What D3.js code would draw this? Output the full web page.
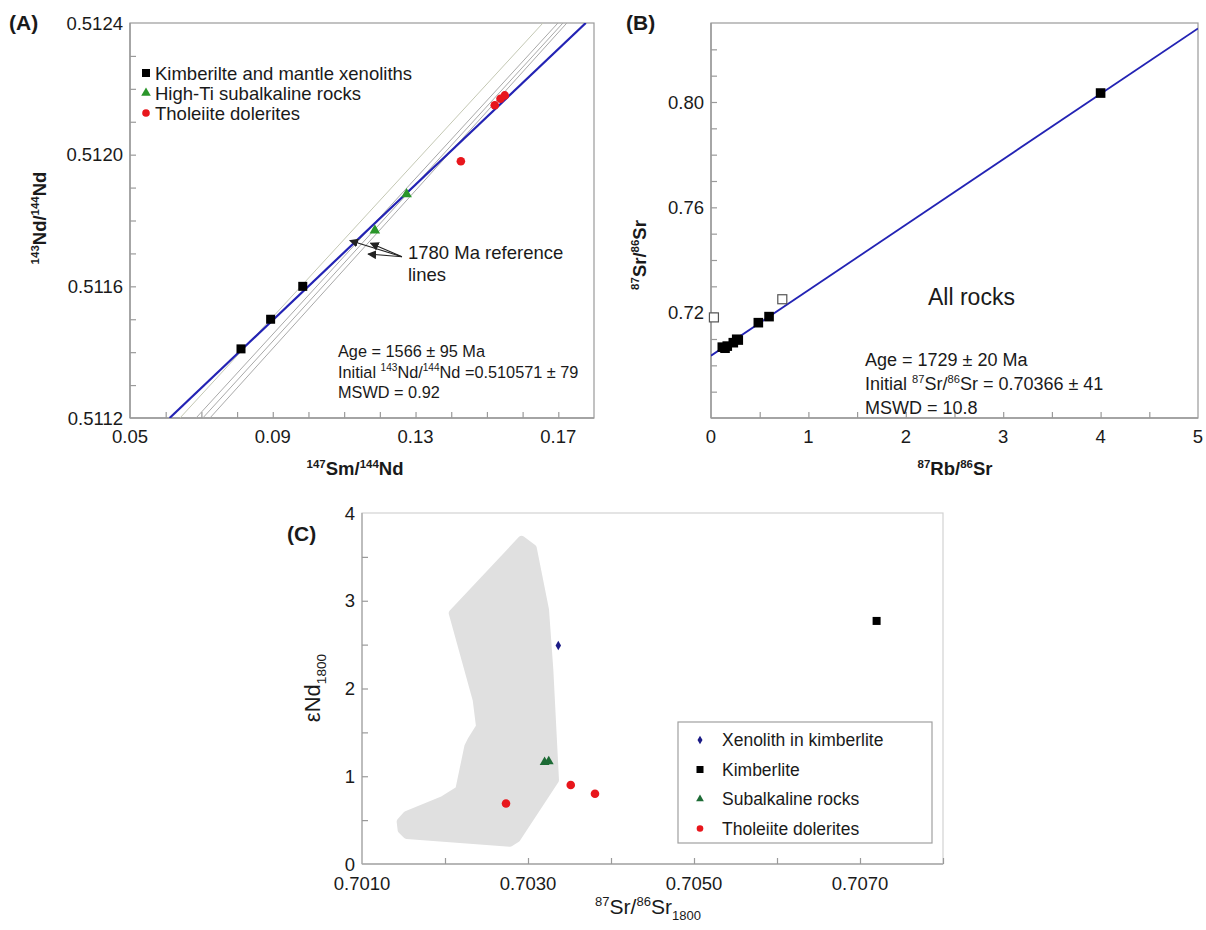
<!DOCTYPE html>
<html><head><meta charset="utf-8">
<script src="https://cdn.jsdelivr.net/npm/d3@7"></script>
<style>
html,body{margin:0;padding:0;background:#fff;}
svg{display:block;font-family:"Liberation Sans",Arial,sans-serif;}
</style></head>
<body>
<svg id="chart" width="1206" height="930"></svg>
<script>
// ---------- Panel A data (147Sm/144Nd vs 143Nd/144Nd) ----------
const aXTicks = [0.05, 0.09, 0.13, 0.17];
const aYTicks = [0.5112, 0.5116, 0.5120, 0.5124];
const aKimberlite = [[0.0811, 0.51141], [0.0894, 0.51150], [0.0984, 0.51160]];
const aHighTi = [[0.1186, 0.51177], [0.1275, 0.51188]];
const aTholeiite = [[0.1427, 0.51198], [0.1522, 0.51215], [0.1538, 0.51217], [0.1550, 0.51218]];
const aIsochron = [[0.0611, 0.5112], [0.1777, 0.5124]];
const aRefLines = [
  [[0.0640, 0.5112], [0.1657, 0.5124]],
  [[0.0685, 0.5112], [0.1699, 0.5124]],
  [[0.0704, 0.5112], [0.1713, 0.5124]],
  [[0.0724, 0.5112], [0.1724, 0.5124]]
];
const aArrowTips = [[0.1116, 0.511739], [0.1174, 0.511731], [0.1167, 0.511698]];
const aArrowTail = [0.1262, 0.511690];
const aLegend = ["Kimberilte and mantle xenoliths", "High-Ti subalkaline rocks", "Tholeiite dolerites"];

// ---------- Panel B data (87Rb/86Sr vs 87Sr/86Sr) ----------
const bXTicks = [0, 1, 2, 3, 4, 5];
const bYTicks = [0.72, 0.76, 0.80];
const bFilledRb = [0.116, 0.144, 0.167, 0.229, 0.264, 0.280, 0.486, 0.596, 4.0];
const bFilledSr = [0.7069, 0.7065, 0.7073, 0.7086, 0.7099, 0.7096, 0.7162, 0.7185, 0.8034];
const bOpenRb = [0.03, 0.732];
const bOpenSr = [0.7182, 0.7251];
const bIsochron = [[0, 0.70366], [5, 0.82796]];

// ---------- Panel C data (87Sr/86Sr1800 vs eNd1800) ----------
const cXTicks = [0.7010, 0.7030, 0.7050, 0.7070];
const cYTicks = [0, 1, 2, 3, 4];
const cXenolith = [[0.703365, 2.49]];
const cKimberlite = [[0.70720, 2.77]];
const cSubalkaline = [[0.70320, 1.16], [0.70325, 1.17]];
const cTholeiite = [[0.702735, 0.69], [0.703515, 0.90], [0.703807, 0.80]];
const cField = [
  [0.702924, 3.694], [0.703057, 3.600], [0.703205, 2.896], [0.703257, 2.212],
  [0.703325, 0.958], [0.702864, 0.293], [0.702783, 0.243], [0.701539, 0.331],
  [0.701478, 0.388], [0.701466, 0.482], [0.701539, 0.559], [0.701980, 0.730],
  [0.702172, 0.844], [0.702281, 1.338], [0.702322, 1.414], [0.702422, 1.566],
  [0.702382, 1.870], [0.702093, 2.859]
];
const cLegend = ["Xenolith in kimberlite", "Kimberlite", "Subalkaline rocks", "Tholeiite dolerites"];

// ---------- helpers ----------
const svg = d3.select("#chart");
const AXIS = "#9a9a9a", TXT = "#1a1a1a";
const RED = "#e8161c", GREEN_A = "#2a962a", GREEN_C = "#1d6b35", NAVY = "#1b1b86", BLUE = "#2323b4";

function rich(sel, parts, size) {
  let shift = 0;
  parts.forEach(p => {
    const target = p.sup ? -0.4 * size : (p.sub ? 0.28 * size : 0);
    sel.append("tspan")
      .attr("dy", target - shift)
      .attr("font-size", (p.sup || p.sub) ? size * 0.62 : size)
      .text(p.t);
    shift = target;
  });
}

function frame(g, x, y, opts) {
  const [x0, x1] = x.range(), [y0, y1] = y.range();
  g.append("rect").attr("x", x0).attr("y", y1).attr("width", x1 - x0).attr("height", y0 - y1)
    .attr("fill", "none").attr("stroke", opts.frameColor || AXIS).attr("stroke-width", 1.2);
  g.append("line").attr("x1", x0).attr("x2", x0).attr("y1", y0).attr("y2", y1).attr("stroke", AXIS).attr("stroke-width", 1.4);
  g.append("line").attr("x1", x0).attr("x2", x1).attr("y1", y0).attr("y2", y0).attr("stroke", AXIS).attr("stroke-width", 1.4);
}

function axes(g, x, y, o) {
  const [x0, x1] = x.range(), [y0, y1] = y.range();
  const xa = d3.axisBottom(x).tickValues(o.xMinor).tickSizeInner(-6).tickSizeOuter(0).tickFormat("");
  const ya = d3.axisLeft(y).tickValues(o.yMinor).tickSizeInner(-6).tickSizeOuter(0).tickFormat("");
  const gx = g.append("g").attr("transform", `translate(0,${y0})`).call(xa);
  const gy = g.append("g").attr("transform", `translate(${x0},0)`).call(ya);
  [gx, gy].forEach(s => { s.select(".domain").remove(); s.selectAll("line").attr("stroke", AXIS).attr("stroke-width", 1.2); });
  g.selectAll(null).data(o.xLabels).join("text")
    .attr("x", d => x(d)).attr("y", y0 + o.xLabelDy).attr("text-anchor", "middle")
    .attr("font-size", o.fs).attr("fill", TXT).text(o.xFmt);
  g.selectAll(null).data(o.yLabels).join("text")
    .attr("x", x0 - 7).attr("y", d => y(d)).attr("dy", "0.36em").attr("text-anchor", "end")
    .attr("font-size", o.fs).attr("fill", TXT).text(o.yFmt);
}

function range(a, b, step) {
  const out = []; const n = Math.round((b - a) / step);
  for (let i = 0; i <= n; i++) out.push(+(a + i * step).toFixed(6));
  return out;
}

// ================= PANEL A =================
{
  const g = svg.append("g");
  const x = d3.scaleLinear().domain([0.05, 0.18]).range([130, 594]);
  const y = d3.scaleLinear().domain([0.5112, 0.5124]).range([418, 23]);
  g.append("defs").append("clipPath").attr("id", "clipA")
    .append("rect").attr("x", 130).attr("y", 23).attr("width", 464).attr("height", 395);
  frame(g, x, y, {});
  axes(g, x, y, {
    xMinor: range(0.06, 0.17, 0.01), yMinor: range(0.5113, 0.5123, 0.0001),
    xLabels: aXTicks, yLabels: aYTicks, fs: 18.5, xLabelDy: 25,
    xFmt: d => d3.format(".2f")(d), yFmt: d => d3.format(".4f")(d)
  });
  const line = d3.line().x(d => x(d[0])).y(d => y(d[1]));
  const lg = g.append("g").attr("clip-path", "url(#clipA)");
  lg.selectAll(null).data(aRefLines).join("path").attr("d", line).attr("fill", "none")
    .attr("stroke", (d, i) => i === 0 ? "#c4c8b4" : "#a9a9a9").attr("stroke-width", 1);
  lg.append("path").datum(aIsochron).attr("d", line).attr("fill", "none").attr("stroke", BLUE).attr("stroke-width", 2.2);

  g.selectAll(null).data(aKimberlite).join("rect")
    .attr("x", d => x(d[0]) - 4.5).attr("y", d => y(d[1]) - 4.5).attr("width", 9).attr("height", 9).attr("fill", "#000");
  const tri = d3.symbol().type(d3.symbolTriangle).size(48);
  g.selectAll(null).data(aHighTi).join("path").attr("d", tri)
    .attr("transform", d => `translate(${x(d[0])},${y(d[1])})`).attr("fill", GREEN_A);
  g.selectAll(null).data(aTholeiite).join("circle")
    .attr("cx", d => x(d[0])).attr("cy", d => y(d[1])).attr("r", 4.3).attr("fill", RED);

  const defs = svg.append("defs");
  defs.append("marker").attr("id", "arrowA").attr("viewBox", "0 0 10 10").attr("refX", 9).attr("refY", 5)
    .attr("markerWidth", 9).attr("markerHeight", 9).attr("markerUnits", "userSpaceOnUse").attr("orient", "auto")
    .append("path").attr("d", "M0,0 L10,5 L0,10 z").attr("fill", "#222");
  g.selectAll(null).data(aArrowTips).join("line")
    .attr("x1", x(aArrowTail[0])).attr("y1", y(aArrowTail[1]))
    .attr("x2", d => x(d[0])).attr("y2", d => y(d[1]))
    .attr("stroke", "#222").attr("stroke-width", 1.1).attr("marker-end", "url(#arrowA)");
  g.append("text").attr("x", x(aArrowTail[0]) + 6).attr("y", y(aArrowTail[1]) + 2).attr("font-size", 18.5).attr("fill", TXT)
    .text("1780 Ma reference");
  g.append("text").attr("x", x(aArrowTail[0]) + 6).attr("y", y(aArrowTail[1]) + 24).attr("font-size", 18.5).attr("fill", TXT)
    .text("lines");

  const leg = g.append("g");
  aLegend.forEach((t, i) => {
    const cy = 73 + i * 20;
    if (i === 0) leg.append("rect").attr("x", 142).attr("y", cy - 4).attr("width", 8).attr("height", 8).attr("fill", "#000");
    if (i === 1) leg.append("path").attr("d", d3.symbol().type(d3.symbolTriangle).size(40)).attr("transform", `translate(146,${cy})`).attr("fill", GREEN_A);
    if (i === 2) leg.append("circle").attr("cx", 146).attr("cy", cy).attr("r", 3.8).attr("fill", RED);
    leg.append("text").attr("x", 155).attr("y", cy).attr("dy", "0.36em").attr("font-size", 18.5).attr("fill", TXT).text(t);
  });

  const ann = [[{t: "Age = 1566 ± 95 Ma"}],
    [{t: "Initial "}, {t: "143", sup: true}, {t: "Nd/"}, {t: "144", sup: true}, {t: "Nd =0.510571 ± 79"}],
    [{t: "MSWD = 0.92"}]];
  ann.forEach((parts, i) => {
    const t = g.append("text").attr("x", 338).attr("y", 357 + i * 20.5).attr("fill", TXT);
    rich(t, parts, 16.3);
  });

  const xt = g.append("text").attr("x", 355).attr("y", 475).attr("text-anchor", "middle").attr("font-weight", "bold").attr("fill", TXT);
  rich(xt, [{t: "147", sup: true}, {t: "Sm/"}, {t: "144", sup: true}, {t: "Nd"}], 18.5);
  const yt = g.append("text").attr("transform", "translate(46,218) rotate(-90)").attr("text-anchor", "middle").attr("font-weight", "bold").attr("fill", TXT);
  rich(yt, [{t: "143", sup: true}, {t: "Nd/"}, {t: "144", sup: true}, {t: "Nd"}], 18.5);
  g.append("text").attr("x", 9).attr("y", 30).attr("font-size", 21).attr("font-weight", "bold").attr("fill", TXT).text("(A)");
}

// ================= PANEL B =================
{
  const g = svg.append("g");
  const x = d3.scaleLinear().domain([0, 5]).range([711, 1198]);
  const y = d3.scaleLinear().domain([0.68, 0.83]).range([418, 23]);
  g.append("defs").append("clipPath").attr("id", "clipB")
    .append("rect").attr("x", 711).attr("y", 23).attr("width", 487).attr("height", 395);
  frame(g, x, y, {});
  axes(g, x, y, {
    xMinor: range(0.5, 4.5, 0.5), yMinor: range(0.69, 0.82, 0.01),
    xLabels: bXTicks, yLabels: bYTicks, fs: 18.5, xLabelDy: 25,
    xFmt: d => d3.format("d")(d), yFmt: d => d3.format(".2f")(d)
  });
  const line = d3.line().x(d => x(d[0])).y(d => y(d[1]));
  g.append("g").attr("clip-path", "url(#clipB)").append("path").datum(bIsochron).attr("d", line)
    .attr("fill", "none").attr("stroke", BLUE).attr("stroke-width", 1.8);
  const filled = bFilledRb.map((v, i) => [v, bFilledSr[i]]);
  const open = bOpenRb.map((v, i) => [v, bOpenSr[i]]);
  g.selectAll(null).data(filled).join("rect")
    .attr("x", d => x(d[0]) - 4.8).attr("y", d => y(d[1]) - 4.8).attr("width", 9.6).attr("height", 9.6).attr("fill", "#000");
  g.selectAll(null).data(open).join("rect")
    .attr("x", d => x(d[0]) - 4.5).attr("y", d => y(d[1]) - 4.5).attr("width", 9).attr("height", 9)
    .attr("fill", "#fff").attr("stroke", "#555").attr("stroke-width", 1.2);

  g.append("text").attr("x", 928).attr("y", 305).attr("font-size", 23).attr("fill", TXT).text("All rocks");
  const ann = [[{t: "Age = 1729 ± 20 Ma"}],
    [{t: "Initial "}, {t: "87", sup: true}, {t: "Sr/"}, {t: "86", sup: true}, {t: "Sr = 0.70366 ± 41"}],
    [{t: "MSWD = 10.8"}]];
  ann.forEach((parts, i) => {
    const t = g.append("text").attr("x", 865).attr("y", 366 + i * 24).attr("fill", TXT);
    rich(t, parts, 18);
  });
  const xt = g.append("text").attr("x", 955).attr("y", 475).attr("text-anchor", "middle").attr("font-weight", "bold").attr("fill", TXT);
  rich(xt, [{t: "87", sup: true}, {t: "Rb/"}, {t: "86", sup: true}, {t: "Sr"}], 18.5);
  const yt = g.append("text").attr("transform", "translate(646,255) rotate(-90)").attr("text-anchor", "middle").attr("font-weight", "bold").attr("fill", TXT);
  rich(yt, [{t: "87", sup: true}, {t: "Sr/"}, {t: "86", sup: true}, {t: "Sr"}], 18.5);
  g.append("text").attr("x", 626).attr("y", 30).attr("font-size", 21).attr("font-weight", "bold").attr("fill", TXT).text("(B)");
}

// ================= PANEL C =================
{
  const g = svg.append("g");
  const x = d3.scaleLinear().domain([0.701, 0.708]).range([362, 943]);
  const y = d3.scaleLinear().domain([0, 4]).range([864, 513]);
  g.append("rect").attr("x", 362).attr("y", 513).attr("width", 581).attr("height", 351)
    .attr("fill", "none").attr("stroke", "#d2d2d2").attr("stroke-width", 1.2);
  g.append("line").attr("x1", 362).attr("x2", 362).attr("y1", 864).attr("y2", 513).attr("stroke", "#a8a8a8").attr("stroke-width", 1.3);
  g.append("line").attr("x1", 362).attr("x2", 943).attr("y1", 864).attr("y2", 864).attr("stroke", "#a8a8a8").attr("stroke-width", 1.3);
  axes(g, x, y, {
    xMinor: range(0.702, 0.708, 0.001), yMinor: range(0.5, 3.5, 0.5),
    xLabels: cXTicks, yLabels: cYTicks, fs: 18.5, xLabelDy: 26,
    xFmt: d => d3.format(".4f")(d), yFmt: d => d3.format("d")(d)
  });
  g.insert("path", ":first-child").datum(cField)
    .attr("d", d3.line().x(d => x(d[0])).y(d => y(d[1])).curve(d3.curveLinearClosed))
    .attr("fill", "#e0e0e0").attr("stroke", "#e0e0e0").attr("stroke-width", 8).attr("stroke-linejoin", "round");

  g.selectAll(null).data(cXenolith).join("path").attr("d", d3.symbol().type(d3.symbolDiamond).size(26))
    .attr("transform", d => `translate(${x(d[0])},${y(d[1])})`).attr("fill", NAVY);
  g.selectAll(null).data(cKimberlite).join("rect")
    .attr("x", d => x(d[0]) - 4).attr("y", d => y(d[1]) - 4).attr("width", 8).attr("height", 8).attr("fill", "#000");
  g.selectAll(null).data(cSubalkaline).join("path").attr("d", d3.symbol().type(d3.symbolTriangle).size(42))
    .attr("transform", d => `translate(${x(d[0])},${y(d[1])})`).attr("fill", GREEN_C);
  g.selectAll(null).data(cTholeiite).join("circle")
    .attr("cx", d => x(d[0])).attr("cy", d => y(d[1])).attr("r", 4.3).attr("fill", RED);

  const leg = g.append("g");
  leg.append("rect").attr("x", 678).attr("y", 722).attr("width", 254).attr("height", 121)
    .attr("fill", "#fff").attr("stroke", "#a0a0a0").attr("stroke-width", 1.2);
  cLegend.forEach((t, i) => {
    const cy = 740 + i * 29.5;
    if (i === 0) leg.append("path").attr("d", d3.symbol().type(d3.symbolDiamond).size(22)).attr("transform", `translate(700,${cy})`).attr("fill", NAVY);
    if (i === 1) leg.append("rect").attr("x", 696.5).attr("y", cy - 3.5).attr("width", 7).attr("height", 7).attr("fill", "#000");
    if (i === 2) leg.append("path").attr("d", d3.symbol().type(d3.symbolTriangle).size(26)).attr("transform", `translate(700,${cy})`).attr("fill", GREEN_C);
    if (i === 3) leg.append("circle").attr("cx", 700).attr("cy", cy).attr("r", 3.3).attr("fill", RED);
    leg.append("text").attr("x", 722).attr("y", cy).attr("dy", "0.36em").attr("font-size", 17.5).attr("fill", TXT).text(t);
  });

  const xt = g.append("text").attr("x", 648).attr("y", 914).attr("text-anchor", "middle").attr("fill", TXT);
  rich(xt, [{t: "87", sup: true}, {t: "Sr/"}, {t: "86", sup: true}, {t: "Sr"}, {t: "1800", sub: true}], 21);
  const yt = g.append("text").attr("transform", "translate(320,688) rotate(-90)").attr("text-anchor", "middle").attr("fill", TXT);
  rich(yt, [{t: "εNd"}, {t: "1800", sub: true}], 22);
  g.append("text").attr("x", 287).attr("y", 541).attr("font-size", 21).attr("font-weight", "bold").attr("fill", TXT).text("(C)");
}
</script>
</body></html>
